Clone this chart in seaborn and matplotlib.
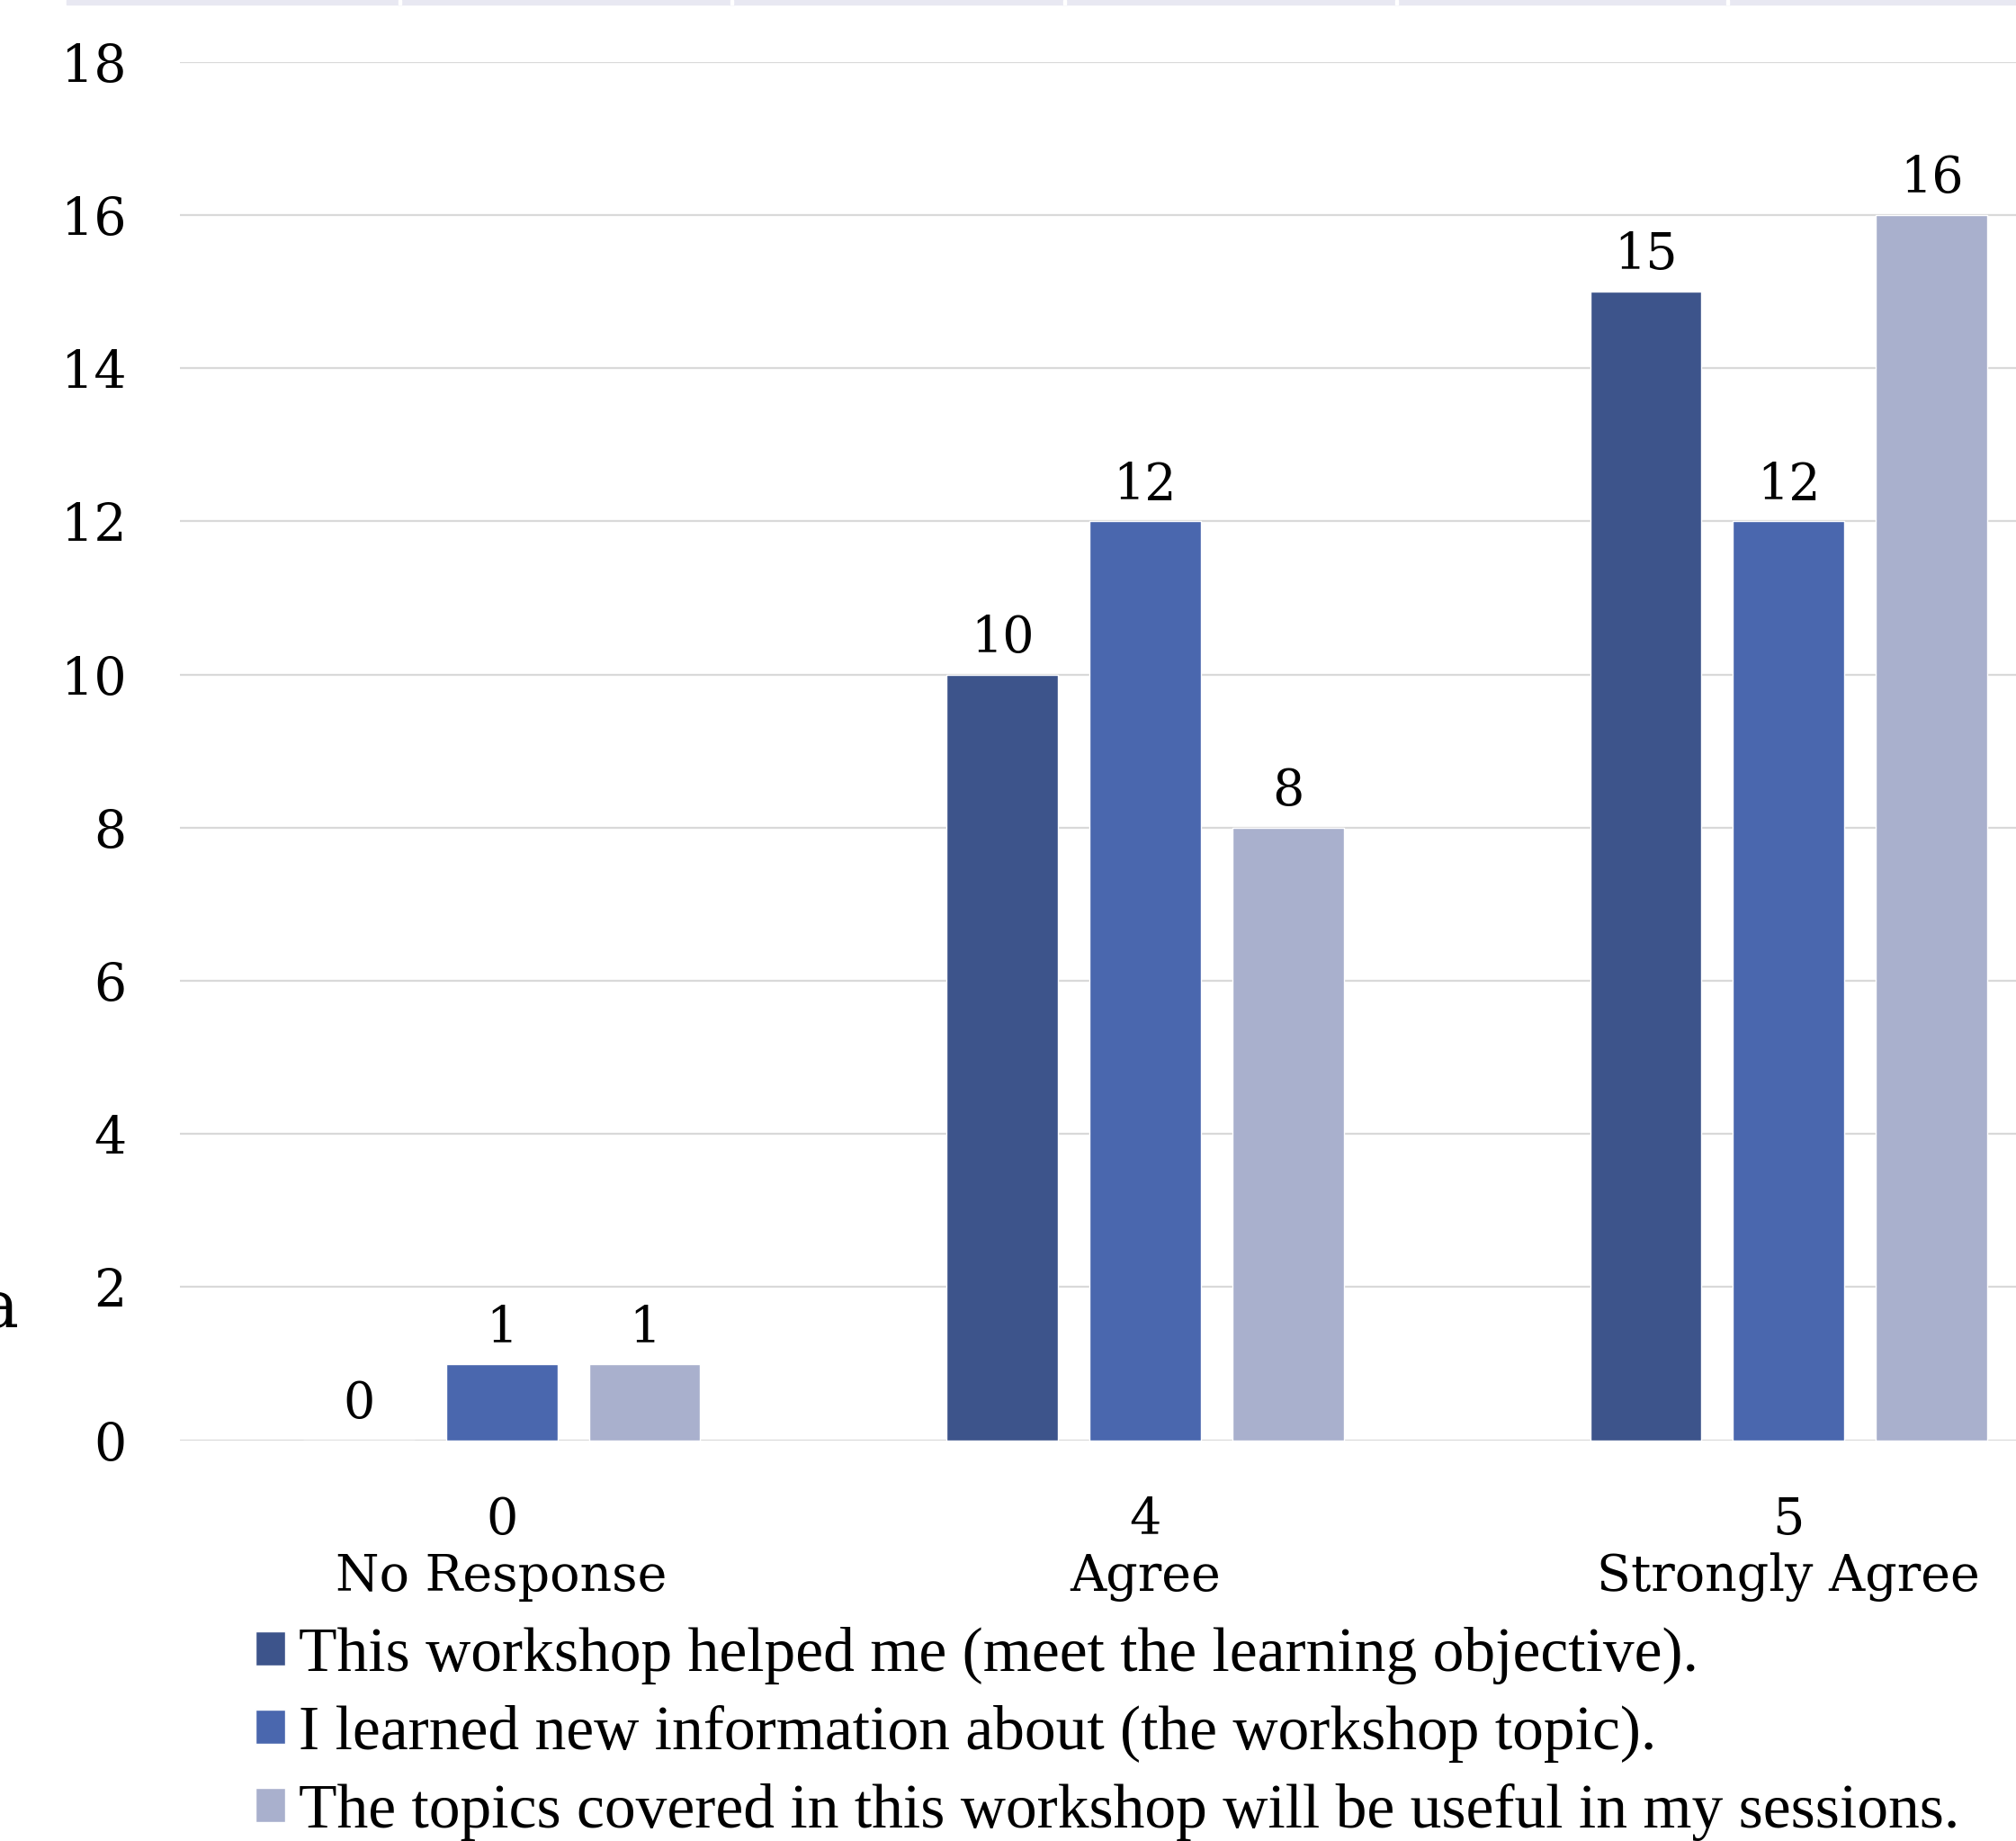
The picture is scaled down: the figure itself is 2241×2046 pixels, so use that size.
import pandas as pd
import matplotlib.pyplot as plt
import seaborn as sns
from matplotlib.patches import Rectangle

# data
categories = ["0\nNo Response", "4\nAgree", "5\nStrongly Agree"]
series = [
    "This workshop helped me (meet the learning objective).",
    "I learned new information about (the workshop topic).",
    "The topics covered in this workshop will be useful in my sessions.",
]
helped = [0, 10, 15]
learned = [1, 12, 12]
useful = [1, 8, 16]
colors = ["#3D548B", "#4A67AE", "#A9B0CD"]
y_ticks = [0, 2, 4, 6, 8, 10, 12, 14, 16, 18]

rows = []
for name, vals in zip(series, [helped, learned, useful]):
    for cat, v in zip(categories, vals):
        rows.append({"category": cat, "series": name, "count": v})
df = pd.DataFrame(rows)

sns.set_style("white")
plt.rcParams["font.family"] = ["DejaVu Serif"]
plt.rcParams["text.color"] = "black"

W, H, DPI = 2241, 2046, 100
fig = plt.figure(figsize=(W / DPI, H / DPI), dpi=DPI)
# plot area: left 200px, y=0 at 1600px, y=18 at 69px; runs past the right edge (cropped)
ax = fig.add_axes([200 / W, 1 - 1600.7 / H, 2146 / W, (1600.7 - 68.6) / H])

sns.barplot(data=df, x="category", y="count", hue="series", hue_order=series,
            palette=colors, width=0.666, gap=0.22, saturation=1, ax=ax,
            legend=True)

ax.set_xlim(-0.5, 2.5)
ax.set_ylim(0, 18)
ax.set_yticks(y_ticks)
ax.set_xlabel("")
ax.set_ylabel("")
ax.set_axisbelow(True)
ax.grid(axis="y", color="#D9D9D9", linewidth=1.6)
for s in ax.spines.values():
    s.set_visible(False)
ax.tick_params(axis="y", length=0, pad=43, labelsize=41, labelcolor="black")
ax.tick_params(axis="x", length=0, pad=44, labelsize=40, labelcolor="black")
for lab in ax.get_xticklabels():
    lab.set_linespacing(1.2)

for cont in ax.containers:
    ax.bar_label(cont, fmt="%d", padding=9, fontsize=40, color="black")

# legend below the plot
handles, labels = ax.get_legend_handles_labels()
ax.get_legend().remove()
fig.legend(handles, labels, loc="upper left", bbox_to_anchor=(284 / W, 1 - 1808 / H),
           frameon=False, prop={"family": "Liberation Serif", "size": 50},
           handlelength=0.47, handleheight=0.47, handletextpad=0.22,
           labelspacing=0.33, borderaxespad=0, borderpad=0)

# cropped pieces of the surrounding slide
fig.text(20 / W, 1 - 1475 / H, "a", ha="right", va="baseline", fontsize=52)
fig.patches.append(Rectangle((74 / W, 1 - 5 / H), 1 - 74 / W, 5 / H,
                             transform=fig.transFigure, color="#E8E8F2", zorder=0))
for xd in [443, 812, 1182, 1551, 1919]:
    fig.patches.append(Rectangle((xd / W, 1 - 5 / H), 3 / W, 5 / H,
                                 transform=fig.transFigure, color="white", zorder=1))

fig.savefig("out.png", dpi=DPI)
